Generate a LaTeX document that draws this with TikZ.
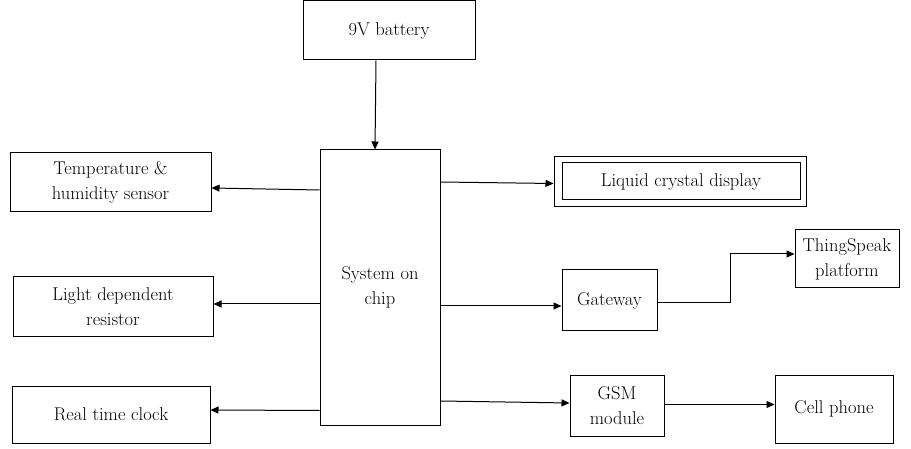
\documentclass[tikz,border=0pt]{standalone}
\usetikzlibrary{arrows.meta}
\begin{document}
\begin{tikzpicture}[x=1pt,y=-1pt,
  blk/.style={draw,line width=1pt,inner sep=0pt,font=\fontsize{18.5}{25}\selectfont,align=center},
  con/.style={line width=1pt,-{Triangle[length=8pt,width=7pt]}}]
\useasboundingbox (0,0) rectangle (911,449);
\node[blk,minimum width=172,minimum height=59] (bat) at (389,30.5) {9V battery};
\node[blk,minimum width=120,minimum height=275] (soc) at (380,287.5) {System on\\chip};
\node[blk,minimum width=201,minimum height=59] (temp) at (110.5,182.5) {Temperature \&\\humidity sensor};
\node[blk,minimum width=200,minimum height=59] (ldr) at (113,306.5) {Light dependent\\resistor};
\node[blk,minimum width=198,minimum height=57] (rtc) at (111,414.5) {Real time clock};
\node[draw,line width=1pt,minimum width=252,minimum height=50,inner sep=0pt] (lcdo) at (680,182) {};
\node[blk,minimum width=238,minimum height=37] (lcd) at (681,181.5) {Liquid crystal display};
\node[blk,minimum width=95,minimum height=61] (gw) at (609.5,300.5) {Gateway};
\node[blk,minimum width=104,minimum height=58] (ts) at (847,259) {ThingSpeak\\platform};
\node[blk,minimum width=94,minimum height=61] (gsm) at (617,405.5) {GSM\\module};
\node[blk,minimum width=118,minimum height=68] (cell) at (834,409) {Cell phone};
\coordinate (tsa) at (730,254);
\draw[con] ([xshift=-13]bat.south) -- ([xshift=-5]soc.north);
\draw[con] (soc.west |- 0,190) -- (temp.east |- 0,188);
\draw[con] (soc.west |- 0,304) -- (ldr.east |- 0,304);
\draw[con] (soc.west |- 0,410.5) -- (rtc.east |- 0,410);
\draw[con] (soc.east |- 0,182) -- (lcdo.west |- 0,183.5);
\draw[con] (soc.east |- 0,306) -- (gw.west |- 0,306);
\draw[con] (soc.east |- 0,401) -- (gsm.west |- 0,403);
\draw[con] (gw.east |- 0,303) -- (tsa |- 0,303) -- (tsa) -- (ts.west |- tsa);
\draw[con] (gsm.east |- 0,404.5) -- (cell.west |- 0,404.5);
\end{tikzpicture}
\end{document}
